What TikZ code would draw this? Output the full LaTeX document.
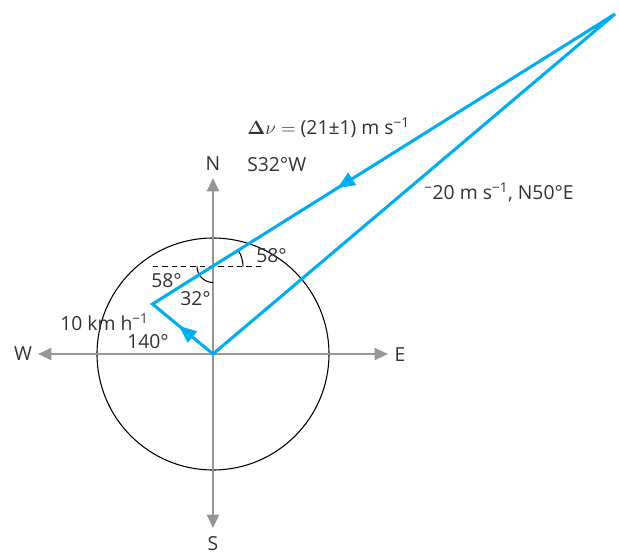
\documentclass[tikz,border=0pt]{standalone}
\usepackage[no-math]{fontspec}
\setmainfont{Open Sans}
\usetikzlibrary{arrows.meta,decorations.markings}
\definecolor{vblue}{RGB}{0,174,239}
\definecolor{axgray}{RGB}{150,150,150}
\definecolor{txt}{RGB}{50,50,50}
\begin{document}
\begin{tikzpicture}[x=0.75pt,y=-0.75pt,
  lbl/.style={inner sep=0pt,text=txt,font=\fontsize{14.5}{16}\selectfont},
  axis/.style={draw=axgray,line width=1.5pt,-{Triangle[length=10pt,width=9pt]}},
  vec/.style={draw=vblue,line width=2.3pt,line join=miter},
  midarrow/.style={decoration={markings,mark=at position #1 with {\arrow[vblue]{Triangle[length=13pt,width=11pt]}}},postaction={decorate}}
]
\useasboundingbox (0,0) rectangle (619,554);
% points
\coordinate (O) at (213,354);
\coordinate (V) at (152.5,304);
\coordinate (A) at (615,14);
\coordinate (I) at (213,266.5);
\coordinate (Ntip) at (213,178);
\coordinate (Stip) at (213,528);
\coordinate (Wtip) at (38,354);
\coordinate (Etip) at (388,354);
\coordinate (DL) at (153,266.5);
\coordinate (DR) at (264,266.5);
% circle
\draw[line width=0.8pt] (O) circle[radius=87pt];
% dashed line
\draw[line width=0.8pt,dash pattern=on 4pt off 3pt] (DL) -- (DR);
% axes
\draw[axis] (O) -- (Ntip);
\draw[axis] (O) -- (Stip);
\draw[axis] (O) -- (Wtip);
\draw[axis] (O) -- (Etip);
% angle arcs
\draw[line width=0.8pt] (I) ++(22.5pt,0pt) arc[start angle=0,end angle=32,radius=22.5pt];
\draw[line width=0.8pt] (I) ++(-12pt,0pt) arc[start angle=180,end angle=270,radius=12pt];
% vector triangle
\draw[vec] (O) -- (V) -- (A) -- cycle;
\path[midarrow=0.56] (O) -- (V);
\path[midarrow=0.6] (A) -- (V);
% labels
\node[lbl,anchor=base west] (dv) at (247,134) {$\mathbf{\Delta}\nu =$ (21±1) m s\textsuperscript{−1}};
\node[lbl,anchor=base west] (dir) at (247,171) {S32°W};
\node[lbl,anchor=base west] (v20) at (424,199) {\textsuperscript{−}20 m s\textsuperscript{−1}, N50°E};
\node[lbl,anchor=base west] (v10) at (60,330) {10 km h\textsuperscript{−1}};
\node[lbl,anchor=base west] (a140) at (127,348) {140°};
\node[lbl,anchor=base west] (a58l) at (151,287) {58°};
\node[lbl,anchor=base west] (a32) at (180,305) {32°};
\node[lbl,anchor=base west] (a58r) at (256,262) {58°};
\node[lbl,anchor=base] (N) at (213,170) {N};
\node[lbl,anchor=base] (S) at (213,550) {S};
\node[lbl,anchor=base] (W) at (23,360) {W};
\node[lbl,anchor=base] (E) at (400,361) {E};
\end{tikzpicture}
\end{document}
